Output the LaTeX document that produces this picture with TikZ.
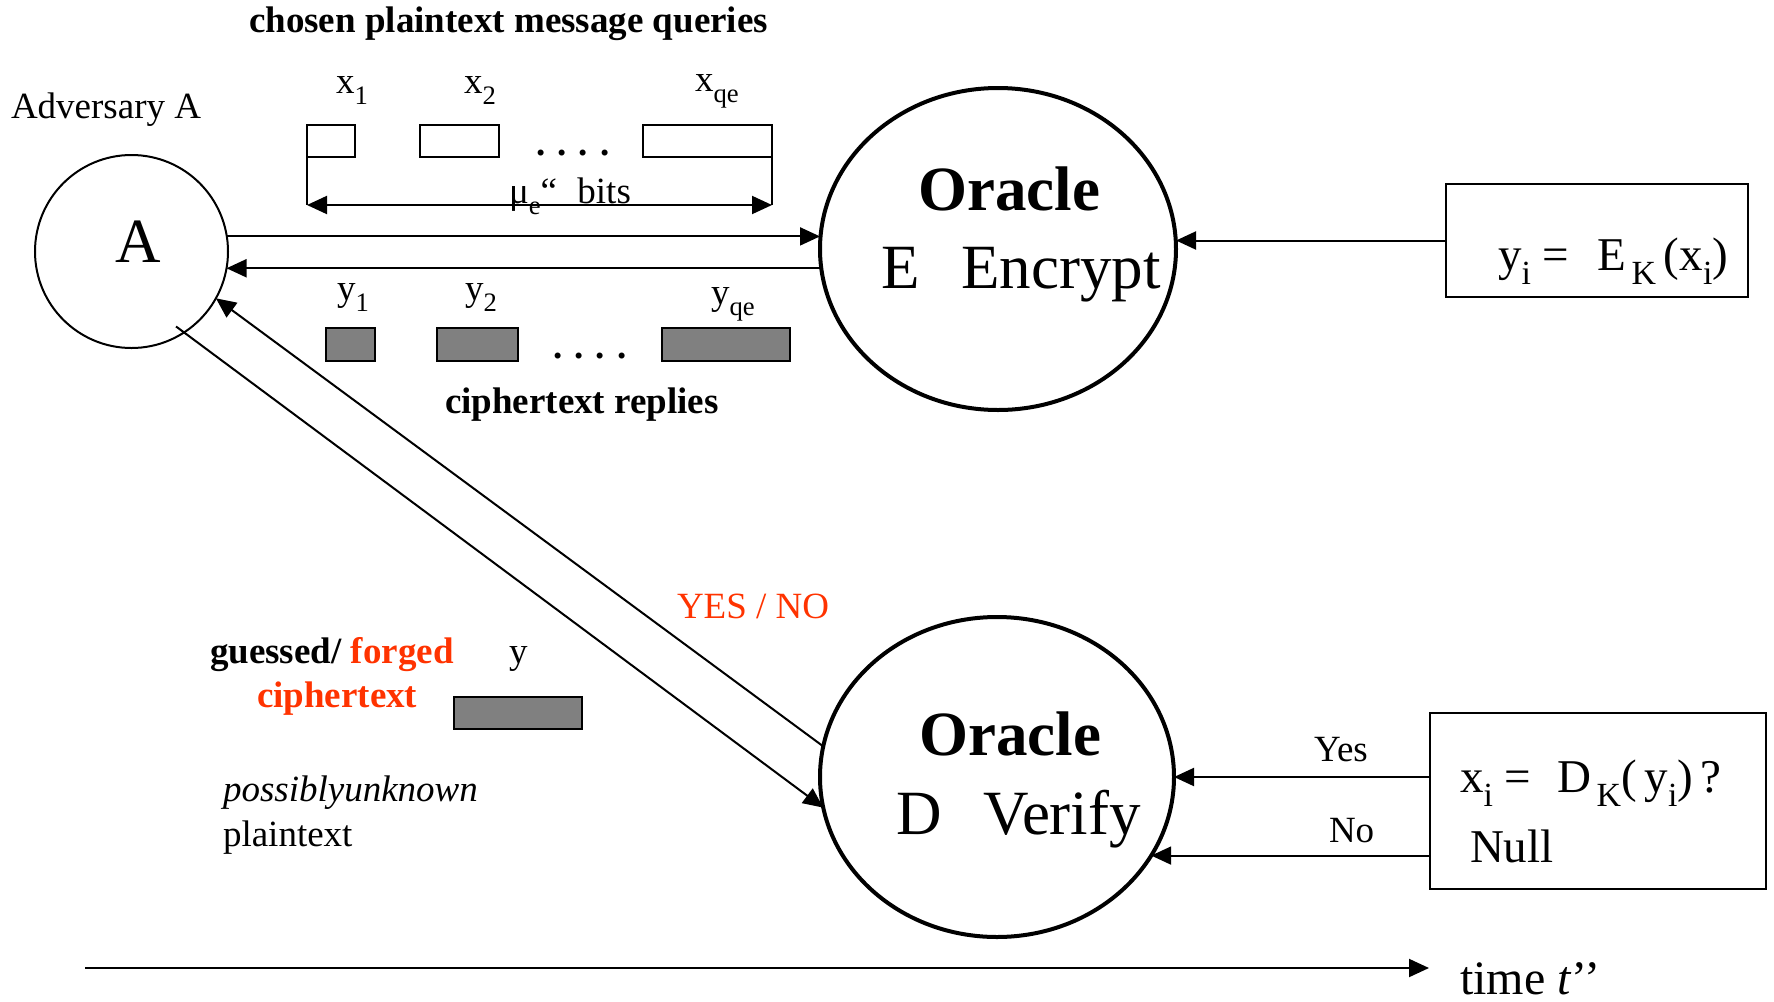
\documentclass[tikz,border=0pt]{standalone}
\usepackage{fontspec}
\setmainfont{Liberation Serif}
\usepackage{graphicx}
\usetikzlibrary{arrows.meta,shapes.geometric}
\definecolor{alert}{RGB}{255,51,0}
\definecolor{cipher}{RGB}{128,128,128}
% lowered, reduced index used in the labels
\newcommand\dn[1]{\raisebox{-0.3em}{\scalebox{0.72}{#1}}}

\begin{document}
\begin{tikzpicture}[x=0.5pt,y=-0.5pt,
  lbl/.style={font=\fontsize{18.5}{22}\selectfont, inner sep=0, outer sep=0, anchor=base west},
  blbl/.style={lbl, font=\fontsize{18.5}{22}\selectfont\bfseries},
  big/.style={lbl, font=\fontsize{31.5}{36}\selectfont},
  bigb/.style={lbl, anchor=base, font=\fontsize{31.5}{36}\selectfont\bfseries},
  formula/.style={lbl, font=\fontsize{23.5}{28}\selectfont},
  oracle/.style={ellipse, draw, line width=2pt, inner sep=0, outer sep=0},
  plainbox/.style={draw, line width=1pt, fill=white, inner sep=0, outer sep=0, minimum height=16pt, minimum width=#1},
  cipherbox/.style={plainbox=#1, fill=cipher, minimum height=16.5pt},
  framebox/.style={draw, line width=1pt, inner sep=0, outer sep=0},
  arr/.style={line width=1pt, -{Triangle[length=10pt,width=9pt]}},
  both/.style={line width=1pt, {Triangle[length=10pt,width=9pt]}-{Triangle[length=10pt,width=9pt]}},
  thin/.style={line width=1pt}
]
\useasboundingbox (0,0) rectangle (1774,1002);

% adversary
\node[blbl] (title) at (249,32) {chosen plaintext message queries};
\node[lbl] (advname) at (11,118) {Adversary A};
\node[circle, draw, line width=1pt, minimum size=96.5pt, inner sep=0, outer sep=0] (adv) at (131.5,251.5) {};
\node[big, anchor=base] (advlbl) at (138,262) {A};

% plaintext query blocks
\node[plainbox=24pt] (xa) at (331,141) {};
\node[plainbox=39.5pt] (xb) at (459.5,141) {};
\node[plainbox=64.5pt] (xq) at (707.5,141) {};
\node[lbl] (lxa) at (336,93) {x\dn{1}};
\node[lbl] (lxb) at (464,93) {x\dn{2}};
\node[lbl] (lxq) at (695,91) {x\dn{qe}};
\node[blbl, anchor=base] (dotsx) at (573,155) {.\hspace{0.32em}.\hspace{0.32em}.\hspace{0.32em}.};

% length of the queries
\coordinate (dl) at (307,205);
\coordinate (dr) at (772,205);
\draw[thin] (xa.south west) -- (dl);
\draw[thin] (xq.south east) -- (dr);
\draw[both] (dl) -- (dr);
\node[lbl] (bits) at (509,203) {μ\dn{e}“\hspace{0.55em}bits};

% ciphertext reply blocks
\node[cipherbox=24.5pt] (ya) at (350.5,344.5) {};
\node[cipherbox=40.5pt] (yb) at (477.5,344.5) {};
\node[cipherbox=64pt] (yq) at (726,344.5) {};
\node[lbl] (lya) at (337,300) {y\dn{1}};
\node[lbl] (lyb) at (465,300) {y\dn{2}};
\node[lbl] (lyq) at (711,304) {y\dn{qe}};
\node[blbl, anchor=base] (dotsy) at (590,358) {.\hspace{0.32em}.\hspace{0.32em}.\hspace{0.32em}.};
\node[blbl] (replies) at (445,413) {ciphertext replies};

% encryption oracle
\node[oracle, minimum width=178pt, minimum height=161pt] (enc) at (998,249) {};
\node[bigb] (encname) at (1009,210) {Oracle};
\node[big] (encop) at (881,288) {E\hspace{21pt}Encrypt};
\node[framebox, minimum width=151pt, minimum height=56.5pt] (ebox) at (1597,240.5) {};
\node[formula] (efn) at (1498,270) {y\dn{i} =\hspace{0.6em}E\dn{\,K}\,(x\dn{i})};

\draw[arr] (adv.9) -- (adv.9 -| enc.west);
\draw[arr] (enc.west |- adv.-10) -- (adv.-10);
\draw[arr] (ebox.west) -- (ebox.west -| enc.east);

% verification oracle
\node[oracle, minimum width=177pt, minimum height=160pt] (ver) at (997,777) {};
\node[bigb] (vername) at (1010,755) {Oracle};
\node[big] (verop) at (896,834) {D\hspace{21pt}Verify};
\node[framebox, minimum width=168pt, minimum height=88pt] (vbox) at (1598,801) {};
\node[formula] (vfn) at (1460,792) {x\dn{i} =\hspace{0.55em}D\dn{\,K}(\,y\dn{i})\,?};
\node[formula] (vnull) at (1470,862) {Null};

\draw[arr] (vbox.west |- ver.east) -- (ver.east);
\draw[arr] (vbox.west |- ver.-27.6) -- (ver.-27.6);
\node[lbl] (yes) at (1314,761) {Yes};
\node[lbl] (no) at (1329,842) {No};

% forged ciphertext submitted to the verifier
\draw[arr] (ver.170) -- (adv.-29);
\draw[arr, shorten <=-5pt] (adv.-57) -- (ver.190);
\node[lbl, text=alert] (yesno) at (677,618) {YES / NO};
\node[blbl] (guess) at (210,663) {guessed/ \textcolor{alert}{forged}};
\node[blbl, text=alert] (forged) at (257,707) {ciphertext};
\node[lbl] (ly) at (509,663) {y};
\node[cipherbox=64pt, minimum height=16pt] (yf) at (518,713) {};
\node[lbl, font=\fontsize{18.5}{22}\selectfont\itshape] (poss) at (223,801) {possiblyunknown};
\node[lbl] (plain) at (223,846) {plaintext};

% time axis
\coordinate (t0) at (85,968);
\coordinate (t1) at (1429,968);
\draw[arr] (t0) -- (t1);
\node[lbl, font=\fontsize{24}{28}\selectfont] (time) at (1460,994) {time \textit{t}’’};
\end{tikzpicture}
\end{document}
